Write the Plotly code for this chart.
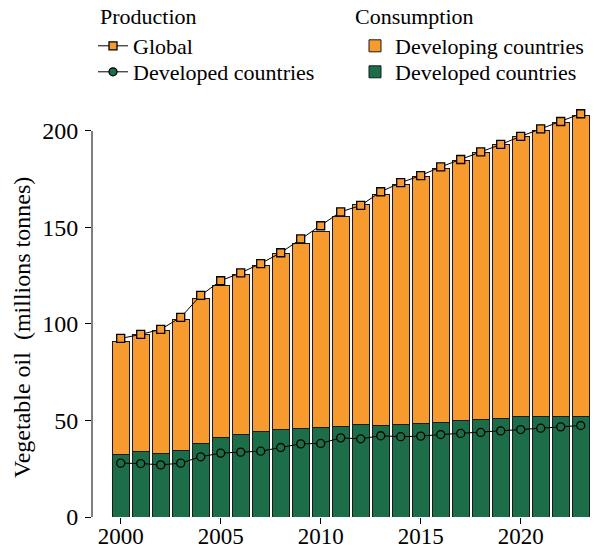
import plotly.graph_objects as go

years = list(range(2000, 2024))

# Production (millions tonnes)
prod_global = [92.5, 94.6, 97.2, 103.4, 114.8, 122.4, 126.5, 131.3, 136.9, 144.1, 150.9, 158.1,
               161.4, 168.5, 173.2, 176.9, 181.4, 185.2, 189.2, 193.0, 197.2, 201.1, 204.9, 208.9]
prod_developed = [27.9, 27.7, 27.0, 27.9, 31.2, 33.1, 33.6, 34.1, 36.0, 37.9, 38.1, 41.0,
                  40.5, 42.1, 41.6, 41.9, 42.7, 43.3, 43.8, 44.6, 45.3, 46.0, 46.7, 47.4]

# Consumption (millions tonnes)
cons_developed = [32.2, 33.8, 32.7, 34.3, 38.3, 41.4, 42.7, 44.1, 45.2, 45.7, 46.2, 46.7,
                  47.8, 47.4, 47.8, 48.3, 49.1, 50.0, 50.5, 51.2, 51.9, 52.1, 51.9, 52.2]
cons_developing = [58.6, 60.6, 63.9, 68.0, 74.8, 78.4, 83.1, 86.0, 91.3, 96.0, 101.7, 109.0,
                   114.0, 119.9, 124.5, 128.0, 131.6, 134.7, 138.5, 141.6, 145.1, 148.3, 152.3, 155.8]

x_ticks = [2000, 2005, 2010, 2015, 2020]
y_ticks = [0, 50, 100, 150, 200]

ORANGE = "#F89B2F"
GREEN = "#1B6E48"
FONT = "Liberation Serif, Times New Roman, serif"
W, H = 596, 548


def f(size):
    return dict(family=FONT, size=size, color="black")


fig = go.Figure()

fig.add_trace(go.Bar(
    x=years, y=cons_developed, name="Developed countries", showlegend=True,
    marker=dict(color=GREEN, line=dict(color="#1a1a1a", width=1)),
    legend="legend4",
))
fig.add_trace(go.Bar(
    x=years, y=cons_developing, name="Developing countries", showlegend=True,
    marker=dict(color=ORANGE, line=dict(color="#1a1a1a", width=1)),
    legend="legend2",
))
fig.add_trace(go.Scatter(
    x=years, y=prod_global, name="Global", mode="lines+markers", showlegend=True,
    line=dict(color="black", width=1),
    marker=dict(symbol="square", size=8, color=ORANGE, line=dict(color="black", width=1.3)),
    legend="legend",
))
fig.add_trace(go.Scatter(
    x=years, y=prod_developed, name="Developed countries", mode="lines+markers", showlegend=True,
    line=dict(color="black", width=1),
    marker=dict(symbol="circle", size=8, color=GREEN, line=dict(color="black", width=1.3)),
    legend="legend3",
))

fig.add_shape(type="line", xref="paper", yref="y", x0=0, x1=0, y0=0, y1=200,
              line=dict(color="black", width=1))

fig.add_annotation(text="Vegetable oil\u00a0\u00a0(millions tonnes)", textangle=-90,
                   xref="paper", yref="paper", x=(22 - 92) / 500, y=(517 - 328) / 415,
                   xanchor="center", yanchor="middle", showarrow=False,
                   font=f(24))

# legend group headings
for txt, px in [("Production", 98), ("Consumption", 353)]:
    fig.add_annotation(text=txt, xref="paper", yref="paper",
                       x=(px - 92) / 500, y=(517 - 17) / 415,
                       xanchor="left", yanchor="middle", showarrow=False,
                       font=f(22))


def leg(px_x, px_top):
    return dict(xref="container", yref="container", x=px_x / W, y=1 - px_top / H,
                xanchor="left", yanchor="top", bgcolor="rgba(0,0,0,0)",
                font=f(22), traceorder="normal", tracegroupgap=0, visible=True)


fig.update_layout(
    width=W, height=H,
    margin=dict(l=92, r=4, t=102, b=31, autoexpand=False),
    paper_bgcolor="white", plot_bgcolor="white",
    font=f(22),
    barmode="stack", bargap=0.165,
    xaxis=dict(range=[1998.565, 2023.565], tickvals=x_ticks, ticks="outside",
               ticklen=6, tickcolor="black", showline=False, showgrid=False,
               zeroline=False, tickfont=f(23), automargin=False,
               ticklabelstandoff=-8),
    yaxis=dict(range=[0, 215], tickvals=y_ticks, ticks="outside", ticklen=6,
               tickcolor="black", showline=False, showgrid=False, zeroline=False,
               tickfont=f(24), automargin=False, ticklabelstandoff=2),
    legend=leg(93, 25),
    legend3=leg(93, 51),
    legend2=leg(355, 25),
    legend4=leg(355, 51),
)

fig.write_html("out.html", config={"displayModeBar": False},
               post_script="document.body.style.margin='0';")
